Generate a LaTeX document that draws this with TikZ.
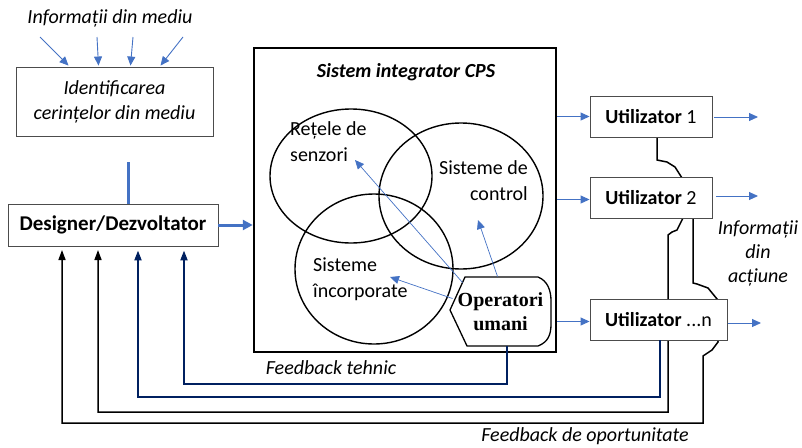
\documentclass[tikz,border=0pt]{standalone}
\usepackage{fontspec}
\setmainfont{Carlito}
\newfontfamily\timesf{Liberation Serif}
\usetikzlibrary{arrows.meta,calc}
\definecolor{ablue}{RGB}{68,114,196}
\definecolor{dblue}{RGB}{0,32,96}
\begin{document}
\begin{tikzpicture}[x=1pt,y=-1pt,
  box/.style={draw=black!70, line width=0.9pt, fill=white, inner sep=0pt},
  txt/.style={font=\fontsize{20}{26}\selectfont, inner sep=0pt},
  bluearr/.style={ablue, line width=0.9pt, -{Triangle[length=9pt,width=8pt]}},
  thickarr/.style={ablue, line width=3pt, -{Triangle[length=10pt,width=10pt]}},
  fbk/.style={black, line width=1.5pt, -{Triangle[length=10pt,width=7pt]}},
  fbb/.style={dblue, line width=2pt, -{Triangle[length=10pt,width=7pt]}},
  venn/.style={draw=black, line width=1.4pt}]
\useasboundingbox (0,0) rectangle (802,447);

% ---- top left
\node[txt, font=\fontsize{20}{26}\selectfont\itshape] (infm) at (110,18) {Informații din mediu};
\node[box, minimum width=197, minimum height=69, align=center, txt, font=\fontsize{20}{25}\selectfont\itshape] (id) at (114.5,101.5) {Identificarea\\cerințelor din mediu};
\foreach \sx/\sy/\tx in {40/37/-46, 97/37/-16, 133/37/16, 183/37/46}{
  \draw[bluearr] (\sx,\sy) -- ([xshift=\tx pt, yshift=1pt]id.north);
}
\node[box, minimum width=210, minimum height=42, txt, font=\fontsize{21}{26}\selectfont\bfseries] (des) at (113,225) {Designer/Dezvoltator};
\coordinate (lnk) at (128,162);
\draw[ablue, line width=3pt] (lnk) -- (lnk |- des.north);

% ---- system box
\node[draw=black, line width=2.5pt, minimum width=302, minimum height=304, inner sep=0pt] (sys) at (405,200) {};
\draw[thickarr] (des.east) -- (sys.west |- des.east);
\node[txt, font=\fontsize{20}{24}\selectfont\bfseries\itshape] (title) at (406,72) {Sistem integrator CPS};

\draw[venn] (351,176) ellipse [x radius=81, y radius=67];
\draw[venn] (461,196) ellipse [x radius=82, y radius=73];
\draw[venn] (374,269) ellipse [x radius=79, y radius=75];

\node[txt, align=left, anchor=north west] (ret) at (290,121) {Rețele de\\senzori};
\node[txt, align=right, anchor=north east] (ctl) at (528,160) {Sisteme de\\control};
\node[txt, align=left, anchor=north west] (inc) at (313,258) {Sisteme\\încorporate};

% operatori umani
\node[inner sep=0pt, minimum width=101, minimum height=69, font=\fontsize{20}{24}\selectfont\timesf\bfseries, align=center] (op) at (500.5,311.5) {Operatori\\umani};
\draw[black, line width=1.3pt, fill=none]
  (465,277) -- (538,277) .. controls (548,281) and (551,291) .. (551,301)
  -- (551,324) .. controls (551,335) and (548,342) .. (538,346)
  -- (467,346) -- (450,310) -- cycle;

\coordinate (r1) at (355,160);
\coordinate (c1) at (478,220);
\coordinate (i1) at (390,277);
\draw[bluearr, line width=0.7pt] ([xshift=-38pt, yshift=29pt]op.center) -- (r1);
\draw[bluearr, line width=0.7pt] ([xshift=-3pt, yshift=35pt]op.center) -- (c1);
\draw[bluearr, line width=0.7pt] ([xshift=-48pt, yshift=13pt]op.center) -- (i1);

% ---- users
% feedback wires behind user boxes
\draw[black, line width=1.5pt] (657,137) -- (657,160) -- (667,162) -- (675,167) -- (682,178);
\draw[fbk] (683,218) -- (677,230) -- (672,232) -- (668,235) -- (668,412) -- (98,412) -- (98,250);
\draw[fbk] (693,218) -- (693,283) -- (697,284) -- (708,288) -- (717,299) -- (718,342) -- (712,350) -- (703,356) -- (703,423) -- (62,423) -- (62,250);

\node[box, minimum width=122, minimum height=41, txt] (u1) at (651,116.5) {\textbf{Utilizator} 1};
\node[box, minimum width=122, minimum height=41, txt] (u2) at (651,197.5) {\textbf{Utilizator} 2};
\node[box, minimum width=137, minimum height=41, txt] (un) at (658.5,319.5) {\textbf{Utilizator} ...n};

\draw[bluearr] (sys.east |- u1.west) -- (u1.west);
\draw[bluearr] ([yshift=-2pt]sys.east |- u2.west) -- ([yshift=-2pt]u2.west);
\draw[bluearr] ([yshift=-2pt]sys.east |- un.west) -- ([yshift=-2pt]un.west);

\coordinate (o1) at (758,117);
\coordinate (o2) at (758,196);
\coordinate (o3) at (761,323);
\draw[bluearr] ([xshift=2pt]u1.east |- o1) -- (o1);
\draw[bluearr] ([xshift=4pt]u2.east |- o2) -- (o2);
\draw[bluearr] ([xshift=1pt]un.east |- o3) -- (o3);

\node[txt, font=\fontsize{20}{24}\selectfont\itshape, align=center] (infa) at (758,253) {Informații\\din\\acțiune};

% ---- dark blue feedback
\draw[fbb] ([xshift=6.5pt]op.south) -- ++(0,38) -| ([xshift=71pt, yshift=-4pt]des.south);
\draw[fbb] ([xshift=1.5pt]un.south) -- ++(0,57) -| ([xshift=25pt, yshift=-4pt]des.south);

\node[txt, font=\fontsize{20}{24}\selectfont\itshape] (fbt) at (331,368) {Feedback tehnic};
\node[txt, font=\fontsize{20}{24}\selectfont\itshape] (fbo) at (585,436) {Feedback de oportunitate};
\end{tikzpicture}
\end{document}
